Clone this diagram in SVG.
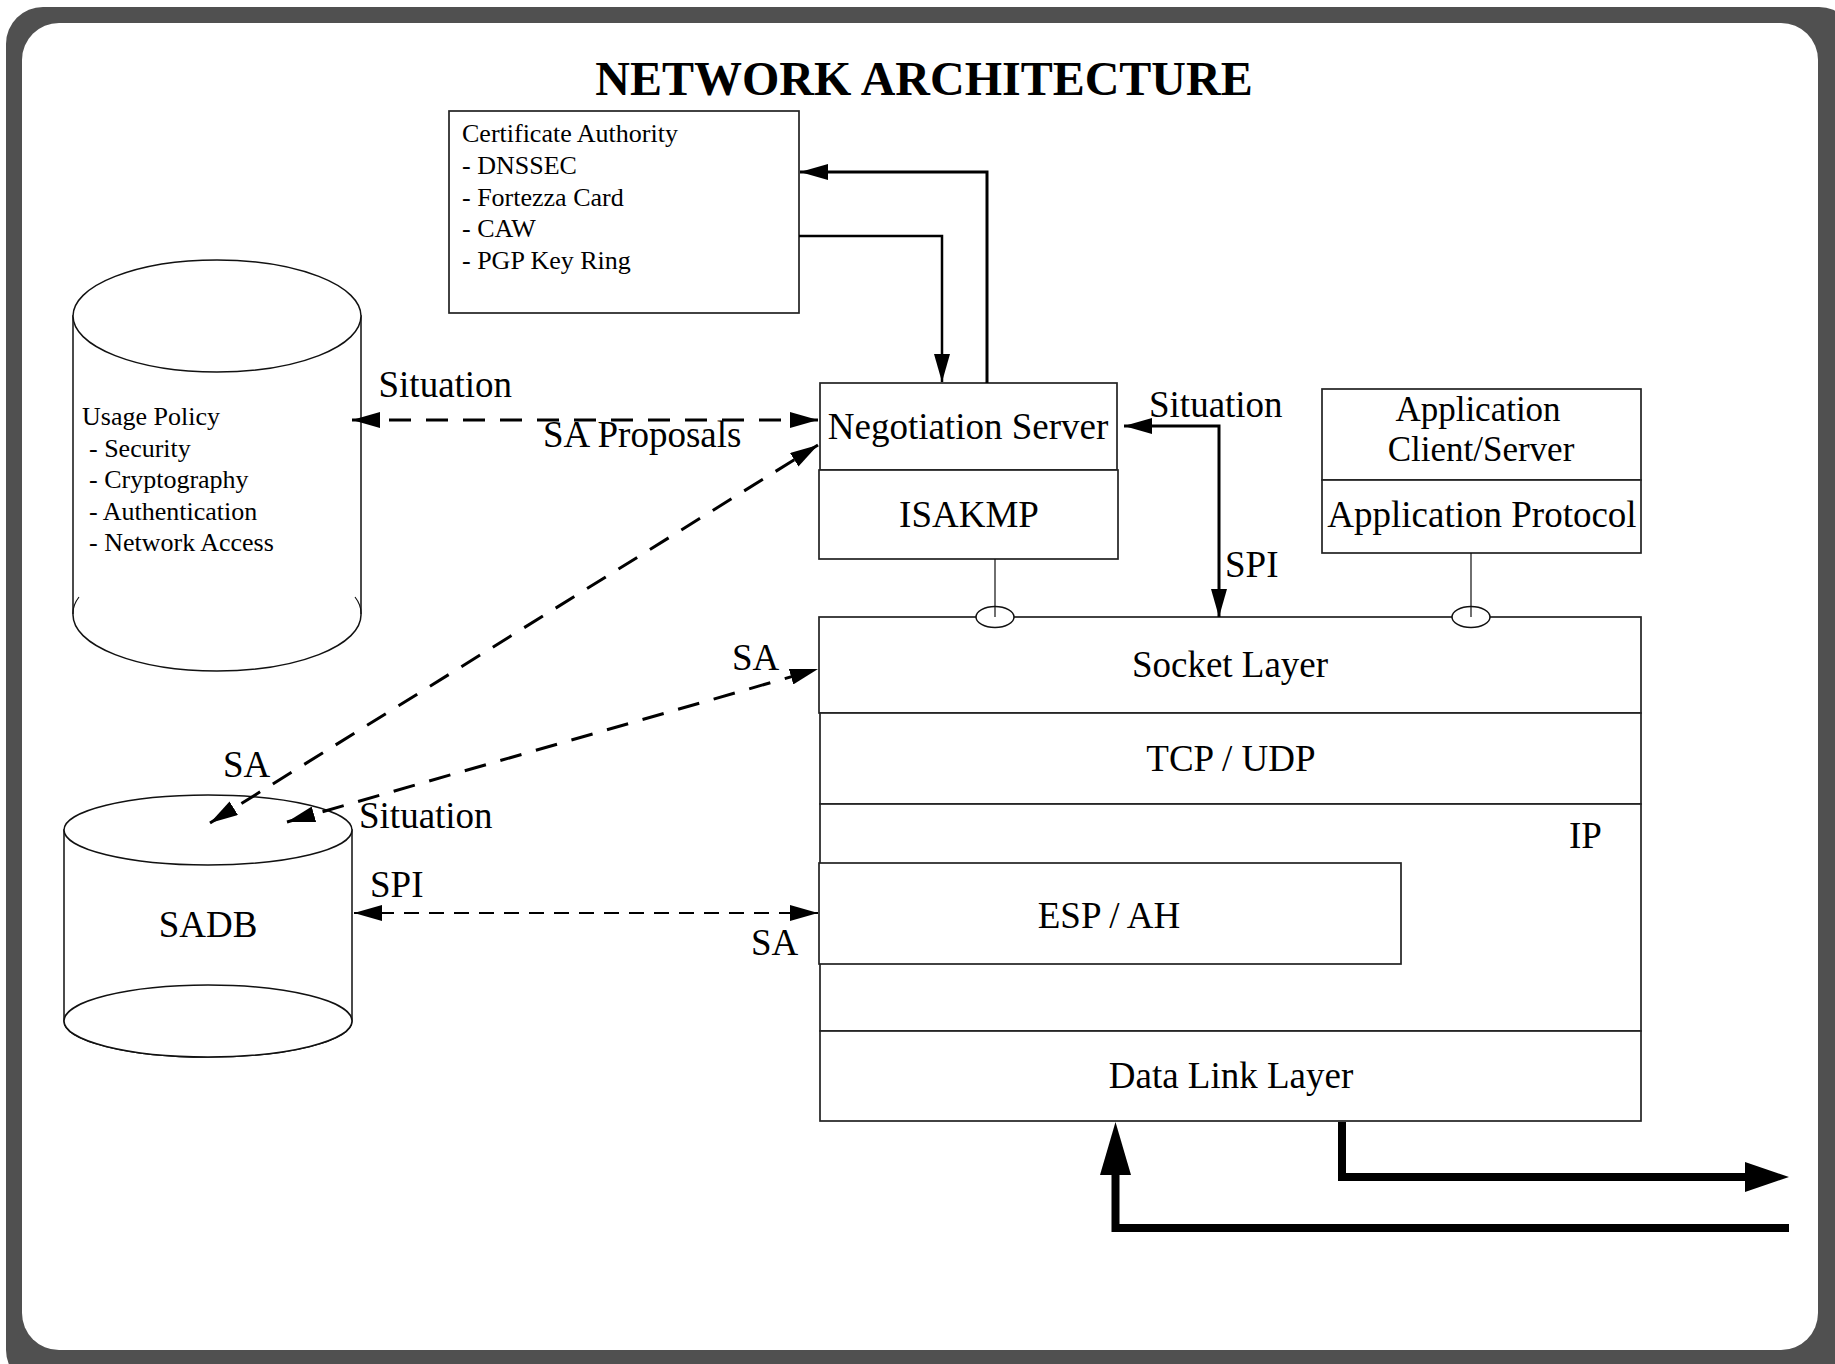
<svg xmlns="http://www.w3.org/2000/svg" width="1835" height="1364" viewBox="0 0 1835 1364">
  <defs>
    <style>
      text { font-family: "Liberation Serif", "Times New Roman", serif; fill: #000; }
      .title { font-size: 48px; font-weight: bold; }
      .small { font-size: 26px; }
      .label { font-size: 37px; }
      .app { font-size: 35px; }
      .mid { text-anchor: middle; }
      .box { fill: #fff; stroke: #222; stroke-width: 1.7; }
      .drum { fill: #fff; stroke: #111; stroke-width: 1.5; }
      .plug { fill: none; stroke: #111; stroke-width: 1.2; }
      .solid { fill: none; stroke: #000; stroke-width: 3; }
      .dash { fill: none; stroke: #000; stroke-width: 3; stroke-dasharray: 22 15; }
      .dash-thin { fill: none; stroke: #000; stroke-width: 2; stroke-dasharray: 15 10; }
      .heavy { fill: none; stroke: #000; stroke-width: 8; }
    </style>
    <marker id="arrow" viewBox="0 0 28 16" refX="28" refY="8" markerWidth="28" markerHeight="16" markerUnits="userSpaceOnUse" orient="auto-start-reverse">
      <path d="M0,0 L28,8 L0,16 z" fill="#000"/>
    </marker>
  </defs>

  <!-- frame -->
  <rect x="6" y="7" width="1850" height="1380" rx="37" ry="37" fill="#505050"/>
  <rect x="22" y="23" width="1796" height="1327" rx="37" ry="37" fill="#fff"/>

  <text class="title mid" x="924" y="95">NETWORK ARCHITECTURE</text>

  <!-- Certificate Authority -->
  <g id="certificate-authority">
    <rect class="box" x="449" y="111" width="350" height="202"/>
    <text class="small" x="462" y="142">Certificate Authority</text>
    <text class="small" x="462" y="174">- DNSSEC</text>
    <text class="small" x="462" y="205.5">- Fortezza Card</text>
    <text class="small" x="462" y="237">- CAW</text>
    <text class="small" x="462" y="268.5">- PGP Key Ring</text>
  </g>

  <!-- Usage Policy store -->
  <g id="usage-policy">
    <path class="drum" d="M73,316 V615 A144,56 0 0 0 361,615 V316 Z"/>
    <ellipse class="drum" cx="217" cy="316" rx="144" ry="56"/>
    <path class="plug" d="M73,614 A144,56 0 0 1 79,597 M361,614 A144,56 0 0 0 355,597"/>
    <text class="small" x="82" y="425">Usage Policy</text>
    <text class="small" x="89" y="456.5">- Security</text>
    <text class="small" x="89" y="488">- Cryptography</text>
    <text class="small" x="89" y="519.5">- Authentication</text>
    <text class="small" x="89" y="551">- Network Access</text>
  </g>

  <!-- SADB store -->
  <g id="sadb">
    <path class="drum" d="M64,830 V1021 A144,36 0 0 0 352,1021 V830 Z"/>
    <ellipse class="drum" cx="208" cy="1021" rx="144" ry="36"/>
    <ellipse class="drum" cx="208" cy="830" rx="144" ry="35"/>
    <text class="label mid" x="208" y="937">SADB</text>
  </g>

  <!-- Negotiation Server / ISAKMP -->
  <g id="negotiation-server">
    <rect class="box" x="820" y="383" width="297" height="87"/>
    <text class="label mid" x="968" y="439">Negotiation Server</text>
  </g>
  <g id="isakmp">
    <rect class="box" x="819" y="470" width="299" height="89"/>
    <text class="label mid" x="969" y="527">ISAKMP</text>
  </g>

  <!-- Application -->
  <g id="application-client-server">
    <rect class="box" x="1322" y="389" width="319" height="91"/>
    <text class="app mid" x="1478" y="421">Application</text>
    <text class="app mid" x="1481" y="461">Client/Server</text>
  </g>
  <g id="application-protocol">
    <rect class="box" x="1322" y="480" width="319" height="73"/>
    <text class="label mid" x="1482" y="527">Application Protocol</text>
  </g>

  <!-- protocol stack -->
  <g id="socket-layer">
    <rect class="box" x="819" y="617" width="822" height="96"/>
    <text class="label mid" x="1230" y="677">Socket Layer</text>
  </g>
  <g id="tcp-udp">
    <rect class="box" x="820" y="713" width="821" height="91"/>
    <text class="label mid" x="1231" y="771">TCP / UDP</text>
  </g>
  <g id="ip">
    <rect class="box" x="820" y="804" width="821" height="227"/>
    <text class="label" x="1569" y="848">IP</text>
  </g>
  <g id="esp-ah">
    <rect class="box" x="819" y="863" width="582" height="101"/>
    <text class="label mid" x="1109" y="928">ESP / AH</text>
  </g>
  <g id="data-link-layer">
    <rect class="box" x="820" y="1031" width="821" height="90"/>
    <text class="label mid" x="1231" y="1088">Data Link Layer</text>
  </g>

  <!-- socket attachment points -->
  <g id="socket-plugs">
    <ellipse class="drum" cx="995" cy="617" rx="19" ry="10.5"/>
    <ellipse class="drum" cx="1471" cy="617" rx="19" ry="10.5"/>
    <path class="plug" d="M995,559 V617 M1471,553 V617"/>
  </g>

  <!-- connectors -->
  <g id="connectors">
    <path class="solid" d="M987,383 V172 H800" marker-end="url(#arrow)"/>
    <path class="solid" style="stroke-width:2.5" d="M799,236 H942 V382" marker-end="url(#arrow)"/>
    <path class="dash" d="M352,420 H818" marker-start="url(#arrow)" marker-end="url(#arrow)"/>
    <path class="dash" d="M210,823 L818,445" marker-start="url(#arrow)" marker-end="url(#arrow)"/>
    <path class="dash" d="M287,822 L818,669" marker-start="url(#arrow)" marker-end="url(#arrow)"/>
    <path class="dash-thin" d="M354,913 H818" marker-start="url(#arrow)" marker-end="url(#arrow)"/>
    <path class="solid" d="M1124,426 H1219 V617" marker-start="url(#arrow)" marker-end="url(#arrow)"/>

    <path class="heavy" d="M1342,1122 V1177 H1746"/>
    <polygon points="1745,1162 1789,1177 1745,1192" fill="#000"/>
    <path class="heavy" d="M1789,1228 H1115.5 V1174"/>
    <polygon points="1100,1175 1115.5,1122 1131,1175" fill="#000"/>

    <text class="label" x="378.5" y="397">Situation</text>
    <text class="label" x="543" y="447">SA Proposals</text>
    <text class="label" x="1149" y="417">Situation</text>
    <text class="label" x="1225" y="577">SPI</text>
    <text class="label" x="732" y="670">SA</text>
    <text class="label" x="223" y="777">SA</text>
    <text class="label" x="359" y="828">Situation</text>
    <text class="label" x="370" y="897">SPI</text>
    <text class="label" x="751" y="955">SA</text>
  </g>
</svg>
